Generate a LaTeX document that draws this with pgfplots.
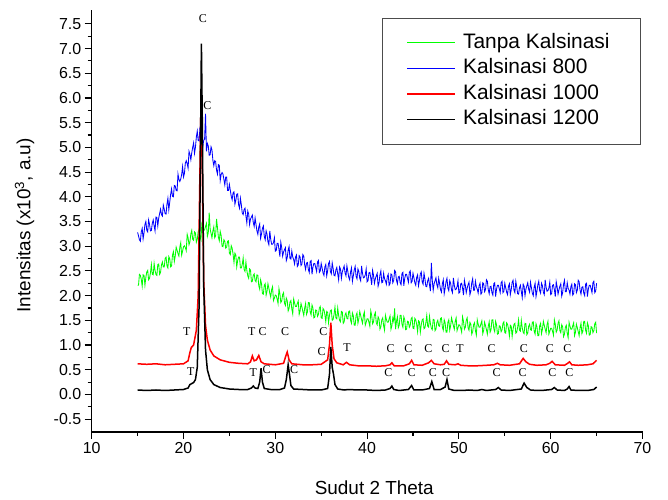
\documentclass[border=0pt]{standalone}
\usepackage{fontspec}
\setmainfont{Liberation Sans}
\newfontfamily\seriffont{Liberation Serif}
\usepackage{pgfplots}
\pgfplotsset{compat=1.18}
\begin{document}
\begin{tikzpicture}
\begin{axis}[
  scale only axis, width=550.8bp, height=422bp,
  xmin=10, xmax=70, ymin=-0.76, ymax=7.78,
  axis x line*=bottom, axis y line*=left,
  axis line style={-, line width=1.2bp},
  xtick={10,20,...,70}, minor x tick num=1,
  ytick={-0.5,0,...,7.5}, minor y tick num=1,
  tick align=outside,
  major tick length=7bp, minor tick length=4bp,
  every tick/.style={black, line width=1.1bp},
  tick label style={font=\fontsize{16}{19}\selectfont},
  yticklabel style={/pgf/number format/.cd, fixed, fixed zerofill, precision=1},
  /pgf/number format/assume math mode=true,
  xlabel={Sudut 2 Theta},
  ylabel={Intensitas (x10\textsuperscript{3}, a.u)},
  label style={font=\fontsize{19}{23}\selectfont},
  xlabel style={at={(axis description cs:0.513,-0.133)}, anchor=center},
  ylabel style={at={(axis description cs:-0.122,0.49)}, anchor=center},
  clip=false,
  legend cell align=left,
  legend image code/.code={\draw[#1] (0bp,0bp) -- (48bp,0bp);},
  legend style={at={(0.9973,0.981)}, anchor=north east, draw=black!70, line width=0.8bp,
    font=\fontsize{21}{25}\selectfont, inner xsep=24bp, inner ysep=15bp,
    nodes={inner xsep=7bp, inner ysep=0bp, text height=15bp, text depth=4bp},
    row sep=6.5bp},
]
% Tanpa Kalsinasi
\addplot[color=green, line width=0.85bp, mark=none] coordinates {
(15.0,2.21)(15.1,2.21)(15.2,2.43)(15.3,2.41)(15.4,2.33)(15.5,2.19)(15.6,2.42)(15.7,2.41)(15.8,2.21)(15.9,2.37)
(16.0,2.48)(16.1,2.51)(16.2,2.32)(16.3,2.35)(16.4,2.46)(16.5,2.63)(16.6,2.43)(16.7,2.42)(16.8,2.65)(16.9,2.51)
(17.0,2.43)(17.1,2.41)(17.2,2.63)(17.3,2.64)(17.4,2.43)(17.5,2.47)(17.6,2.62)(17.7,2.68)(17.8,2.58)(17.9,2.58)
(18.0,2.75)(18.1,2.78)(18.2,2.60)(18.3,2.56)(18.4,2.79)(18.5,2.75)(18.6,2.58)(18.7,2.60)(18.8,2.82)(18.9,2.89)
(19.0,2.69)(19.1,2.80)(19.2,2.98)(19.3,2.92)(19.4,2.85)(19.5,2.80)(19.6,2.98)(19.7,3.07)(19.8,2.82)(19.9,2.90)
(20.0,2.99)(20.1,3.01)(20.2,2.97)(20.3,2.91)(20.4,3.24)(20.5,3.17)(20.6,3.03)(20.7,3.09)(20.8,3.25)(20.9,3.32)
(21.0,3.14)(21.1,3.12)(21.2,3.29)(21.3,3.27)(21.4,3.08)(21.5,3.14)(21.6,3.29)(21.7,3.35)(21.8,3.20)(21.9,3.13)
(22.0,3.45)(22.1,3.38)(22.2,3.32)(22.3,3.33)(22.4,3.40)(22.5,3.46)(22.6,3.20)(22.7,3.27)(22.8,3.68)(22.9,3.35)
(23.0,3.26)(23.1,3.17)(23.2,3.31)(23.3,3.39)(23.4,3.17)(23.5,3.21)(23.6,3.55)(23.7,3.38)(23.8,3.18)(23.9,3.11)
(24.0,3.30)(24.1,3.22)(24.2,3.00)(24.3,2.99)(24.4,3.13)(24.5,3.10)(24.6,2.96)(24.7,2.98)(24.8,3.10)(24.9,3.11)
(25.0,2.86)(25.1,2.83)(25.2,3.01)(25.3,2.96)(25.4,2.84)(25.5,2.67)(25.6,2.86)(25.7,2.82)(25.8,2.58)(25.9,2.71)
(26.0,2.78)(26.1,2.78)(26.2,2.56)(26.3,2.56)(26.4,2.63)(26.5,2.76)(26.6,2.53)(26.7,2.49)(26.8,2.68)(26.9,2.51)
(27.0,2.40)(27.1,2.35)(27.2,2.54)(27.3,2.52)(27.4,2.28)(27.5,2.29)(27.6,2.41)(27.7,2.44)(27.8,2.31)(27.9,2.28)
(28.0,2.42)(28.1,2.41)(28.2,2.20)(28.3,2.13)(28.4,2.32)(28.5,2.24)(28.6,2.04)(28.7,2.03)(28.8,2.21)(28.9,2.24)
(29.0,2.01)(29.1,2.09)(29.2,2.24)(29.3,2.15)(29.4,2.05)(29.5,1.97)(29.6,2.12)(29.7,2.18)(29.8,1.90)(29.9,1.95)
(30.0,2.01)(30.1,2.00)(30.2,1.93)(30.3,1.84)(30.4,2.14)(30.5,2.04)(30.6,1.86)(30.7,1.89)(30.8,2.02)(30.9,2.06)
(31.0,1.85)(31.1,1.80)(31.2,1.95)(31.3,1.90)(31.4,1.69)(31.5,1.74)(31.6,1.87)(31.7,1.90)(31.8,1.73)(31.9,1.63)
(32.0,1.93)(32.1,1.85)(32.2,1.78)(32.3,1.78)(32.4,1.84)(32.5,1.89)(32.6,1.62)(32.7,1.69)(32.8,1.84)(32.9,1.77)
(33.0,1.68)(33.1,1.60)(33.2,1.75)(33.3,1.84)(33.4,1.62)(33.5,1.67)(33.6,1.86)(33.7,1.86)(33.8,1.67)(33.9,1.61)
(34.0,1.81)(34.1,1.75)(34.2,1.55)(34.3,1.56)(34.4,1.71)(34.5,1.70)(34.6,1.58)(34.7,1.62)(34.8,1.75)(34.9,1.78)
(35.0,1.55)(35.1,1.54)(35.2,1.74)(35.3,1.71)(35.4,1.62)(35.5,1.47)(35.6,1.68)(35.7,1.66)(35.8,1.45)(35.9,1.60)
(36.0,1.69)(36.1,1.71)(36.2,1.50)(36.3,1.52)(36.4,1.62)(36.5,1.77)(36.6,1.55)(36.7,1.53)(36.8,1.75)(36.9,1.60)
(37.0,1.50)(37.1,1.47)(37.2,1.68)(37.3,1.67)(37.4,1.44)(37.5,1.47)(37.6,1.61)(37.7,1.65)(37.8,1.54)(37.9,1.53)
(38.0,1.68)(38.1,1.69)(38.2,1.50)(38.3,1.44)(38.4,1.65)(38.5,1.59)(38.6,1.40)(38.7,1.40)(38.8,1.60)(38.9,1.65)
(39.0,1.44)(39.1,1.53)(39.2,1.68)(39.3,1.60)(39.4,1.51)(39.5,1.44)(39.6,1.60)(39.7,1.67)(39.8,1.40)(39.9,1.46)
(40.0,1.53)(40.1,1.53)(40.2,1.46)(40.3,1.38)(40.4,1.69)(40.5,1.60)(40.6,1.43)(40.7,1.47)(40.8,1.61)(40.9,1.66)
(41.0,1.45)(41.1,1.41)(41.2,1.57)(41.3,1.53)(41.4,1.32)(41.5,1.37)(41.6,1.51)(41.7,1.55)(41.8,1.39)(41.9,1.30)
(42.0,1.60)(42.1,1.52)(42.2,1.46)(42.3,1.46)(42.4,1.53)(42.5,1.59)(42.6,1.32)(42.7,1.39)(42.8,1.55)(42.9,1.48)
(43.0,1.74)(43.1,1.32)(43.2,1.48)(43.3,1.57)(43.4,1.35)(43.5,1.40)(43.6,1.60)(43.7,1.60)(43.8,1.42)(43.9,1.36)
(44.0,1.57)(44.1,1.51)(44.2,1.31)(44.3,1.32)(44.4,1.48)(44.5,1.47)(44.6,1.36)(44.7,1.40)(44.8,1.53)(44.9,1.56)
(45.0,1.34)(45.1,1.33)(45.2,1.54)(45.3,1.51)(45.4,1.42)(45.5,1.27)(45.6,1.49)(45.7,1.47)(45.8,1.26)(45.9,1.41)
(46.0,1.51)(46.1,1.53)(46.2,1.33)(46.3,1.35)(46.4,1.45)(46.5,1.60)(46.6,1.38)(46.7,1.36)(46.8,1.58)(46.9,1.43)
(47.0,1.34)(47.1,1.31)(47.2,1.52)(47.3,1.51)(47.4,1.29)(47.5,1.32)(47.6,1.46)(47.7,1.50)(47.8,1.39)(47.9,1.38)
(48.0,1.54)(48.1,1.55)(48.2,1.36)(48.3,1.30)(48.4,1.51)(48.5,1.45)(48.6,1.26)(48.7,1.26)(48.8,1.46)(48.9,1.51)
(49.0,1.30)(49.1,1.39)(49.2,1.55)(49.3,1.47)(49.4,1.39)(49.5,1.32)(49.6,1.48)(49.7,1.55)(49.8,1.29)(49.9,1.35)
(50.0,1.41)(50.1,1.40)(50.2,1.34)(50.3,1.26)(50.4,1.57)(50.5,1.48)(50.6,1.32)(50.7,1.36)(50.8,1.50)(50.9,1.55)
(51.0,1.35)(51.1,1.30)(51.2,1.46)(51.3,1.42)(51.4,1.22)(51.5,1.27)(51.6,1.41)(51.7,1.45)(51.8,1.29)(51.9,1.20)
(52.0,1.51)(52.1,1.42)(52.2,1.36)(52.3,1.36)(52.4,1.43)(52.5,1.49)(52.6,1.23)(52.7,1.30)(52.8,1.46)(52.9,1.39)
(53.0,1.31)(53.1,1.22)(53.2,1.38)(53.3,1.47)(53.4,1.26)(53.5,1.31)(53.6,1.51)(53.7,1.51)(53.8,1.33)(53.9,1.27)
(54.0,1.48)(54.1,1.41)(54.2,1.22)(54.3,1.23)(54.4,1.39)(54.5,1.38)(54.6,1.27)(54.7,1.31)(54.8,1.44)(54.9,1.47)
(55.0,1.25)(55.1,1.24)(55.2,1.45)(55.3,1.42)(55.4,1.33)(55.5,1.18)(55.6,1.40)(55.7,1.38)(55.8,1.17)(55.9,1.32)
(56.0,1.42)(56.1,1.44)(56.2,1.24)(56.3,1.26)(56.4,1.36)(56.5,1.51)(56.6,1.30)(56.7,1.28)(56.8,1.50)(56.9,1.35)
(57.0,1.26)(57.1,1.23)(57.2,1.44)(57.3,1.43)(57.4,1.21)(57.5,1.24)(57.6,1.38)(57.7,1.42)(57.8,1.31)(57.9,1.30)
(58.0,1.46)(58.1,1.47)(58.2,1.28)(58.3,1.22)(58.4,1.43)(58.5,1.37)(58.6,1.19)(58.7,1.19)(58.8,1.39)(58.9,1.44)
(59.0,1.23)(59.1,1.32)(59.2,1.48)(59.3,1.40)(59.4,1.32)(59.5,1.25)(59.6,1.41)(59.7,1.48)(59.8,1.22)(59.9,1.28)
(60.0,1.34)(60.1,1.34)(60.2,1.28)(60.3,1.20)(60.4,1.51)(60.5,1.42)(60.6,1.26)(60.7,1.30)(60.8,1.44)(60.9,1.49)
(61.0,1.29)(61.1,1.25)(61.2,1.41)(61.3,1.37)(61.4,1.17)(61.5,1.22)(61.6,1.36)(61.7,1.40)(61.8,1.24)(61.9,1.15)
(62.0,1.46)(62.1,1.38)(62.2,1.32)(62.3,1.32)(62.4,1.39)(62.5,1.45)(62.6,1.19)(62.7,1.26)(62.8,1.42)(62.9,1.35)
(63.0,1.27)(63.1,1.19)(63.2,1.35)(63.3,1.44)(63.4,1.23)(63.5,1.28)(63.6,1.48)(63.7,1.48)(63.8,1.30)(63.9,1.24)
(64.0,1.45)(64.1,1.39)(64.2,1.20)(64.3,1.21)(64.4,1.37)(64.5,1.36)(64.6,1.25)(64.7,1.29)(64.8,1.43)(64.9,1.46)
(65.0,1.24)
};
\addlegendentry{Tanpa Kalsinasi}
% Kalsinasi 800
\addplot[color=blue, line width=0.85bp, mark=none] coordinates {
(15.0,3.28)(15.1,3.21)(15.2,3.13)(15.3,3.10)(15.4,3.29)(15.5,3.36)(15.6,3.15)(15.7,3.27)(15.8,3.44)(15.9,3.50)
(16.0,3.32)(16.1,3.29)(16.2,3.53)(16.3,3.44)(16.4,3.31)(16.5,3.32)(16.6,3.46)(16.7,3.53)(16.8,3.41)(16.9,3.31)
(17.0,3.59)(17.1,3.58)(17.2,3.41)(17.3,3.57)(17.4,3.66)(17.5,3.75)(17.6,3.64)(17.7,3.61)(17.8,3.83)(17.9,3.75)
(18.0,3.66)(18.1,3.65)(18.2,3.85)(18.3,3.97)(18.4,3.74)(18.5,3.89)(18.6,4.05)(18.7,4.16)(18.8,4.01)(18.9,4.00)
(19.0,4.23)(19.1,4.22)(19.2,4.13)(19.3,4.12)(19.4,4.46)(19.5,4.35)(19.6,4.31)(19.7,4.36)(19.8,4.45)(19.9,4.61)
(20.0,4.40)(20.1,4.47)(20.2,4.68)(20.3,4.73)(20.4,4.67)(20.5,4.58)(20.6,4.92)(20.7,4.86)(20.8,4.75)(20.9,4.89)
(21.0,5.00)(21.1,5.09)(21.2,4.88)(21.3,5.00)(21.4,5.21)(21.5,5.33)(21.6,5.14)(21.7,5.13)(21.8,5.42)(21.9,5.18)
(22.0,5.12)(22.1,5.02)(22.2,5.14)(22.3,5.17)(22.4,5.68)(22.5,4.92)(22.6,5.08)(22.7,5.03)(22.8,4.84)(22.9,4.85)
(23.0,5.01)(23.1,4.95)(23.2,4.74)(23.3,4.63)(23.4,4.73)(23.5,4.71)(23.6,4.54)(23.7,4.46)(23.8,4.65)(23.9,4.64)
(24.0,4.33)(24.1,4.45)(24.2,4.49)(24.3,4.46)(24.4,4.35)(24.5,4.24)(24.6,4.40)(24.7,4.40)(24.8,4.13)(24.9,4.13)
(25.0,4.25)(25.1,4.13)(25.2,4.01)(25.3,3.94)(25.4,4.08)(25.5,4.10)(25.6,3.85)(25.7,3.93)(25.8,4.05)(25.9,4.06)
(26.0,3.84)(26.1,3.77)(26.2,3.97)(26.3,3.84)(26.4,3.67)(26.5,3.64)(26.6,3.74)(26.7,3.77)(26.8,3.61)(26.9,3.47)
(27.0,3.71)(27.1,3.65)(27.2,3.44)(27.3,3.55)(27.4,3.59)(27.5,3.63)(27.6,3.48)(27.7,3.40)(27.8,3.57)(27.9,3.44)
(28.0,3.31)(28.1,3.24)(28.2,3.39)(28.3,3.45)(28.4,3.16)(28.5,3.25)(28.6,3.36)(28.7,3.41)(28.8,3.20)(28.9,3.13)
(29.0,3.31)(29.1,3.24)(29.2,3.09)(29.3,3.03)(29.4,3.31)(29.5,3.14)(29.6,3.04)(29.7,3.04)(29.8,3.07)(29.9,3.17)
(30.0,2.90)(30.1,2.91)(30.2,3.06)(30.3,3.06)(30.4,2.94)(30.5,2.79)(30.6,3.08)(30.7,2.97)(30.8,2.80)(30.9,2.88)
(31.0,2.93)(31.1,2.97)(31.2,2.71)(31.3,2.77)(31.4,2.92)(31.5,2.99)(31.6,2.75)(31.7,2.74)(31.8,2.90)(31.9,2.78)
(32.0,2.73)(32.1,2.64)(32.2,2.78)(32.3,2.82)(32.4,2.59)(32.5,2.62)(32.6,2.81)(32.7,2.78)(32.8,2.61)(32.9,2.64)
(33.0,2.83)(33.1,2.80)(33.2,2.62)(33.3,2.53)(33.4,2.66)(33.5,2.67)(33.6,2.53)(33.7,2.47)(33.8,2.69)(33.9,2.71)
(34.0,2.43)(34.1,2.58)(34.2,2.65)(34.3,2.65)(34.4,2.57)(34.5,2.49)(34.6,2.68)(34.7,2.71)(34.8,2.47)(34.9,2.50)
(35.0,2.65)(35.1,2.56)(35.2,2.46)(35.3,2.41)(35.4,2.58)(35.5,2.63)(35.6,2.40)(35.7,2.50)(35.8,2.65)(35.9,2.69)
(36.0,2.49)(36.1,2.44)(36.2,2.66)(36.3,2.55)(36.4,2.41)(36.5,2.40)(36.6,2.52)(36.7,2.57)(36.8,2.44)(36.9,2.32)
(37.0,2.58)(37.1,2.54)(37.2,2.35)(37.3,2.48)(37.4,2.54)(37.5,2.60)(37.6,2.46)(37.7,2.40)(37.8,2.60)(37.9,2.49)
(38.0,2.37)(38.1,2.32)(38.2,2.48)(38.3,2.56)(38.4,2.29)(38.5,2.40)(38.6,2.52)(38.7,2.59)(38.8,2.39)(38.9,2.34)
(39.0,2.54)(39.1,2.49)(39.2,2.35)(39.3,2.30)(39.4,2.60)(39.5,2.45)(39.6,2.36)(39.7,2.37)(39.8,2.42)(39.9,2.54)
(40.0,2.28)(40.1,2.30)(40.2,2.46)(40.3,2.47)(40.4,2.36)(40.5,2.22)(40.6,2.51)(40.7,2.41)(40.8,2.25)(40.9,2.34)
(41.0,2.40)(41.1,2.45)(41.2,2.19)(41.3,2.26)(41.4,2.42)(41.5,2.50)(41.6,2.26)(41.7,2.27)(41.8,2.45)(41.9,2.34)
(42.0,2.30)(42.1,2.23)(42.2,2.38)(42.3,2.43)(42.4,2.21)(42.5,2.24)(42.6,2.44)(42.7,2.42)(42.8,2.26)(42.9,2.31)
(43.0,2.51)(43.1,2.48)(43.2,2.31)(43.3,2.24)(43.4,2.38)(43.5,2.39)(43.6,2.26)(43.7,2.22)(43.8,2.45)(43.9,2.47)
(44.0,2.20)(44.1,2.35)(44.2,2.43)(44.3,2.43)(44.4,2.35)(44.5,2.27)(44.6,2.47)(44.7,2.50)(44.8,2.26)(44.9,2.29)
(45.0,2.45)(45.1,2.36)(45.2,2.26)(45.3,2.21)(45.4,2.37)(45.5,2.42)(45.6,2.20)(45.7,2.30)(45.8,2.44)(45.9,2.48)
(46.0,2.28)(46.1,2.23)(46.2,2.45)(46.3,2.34)(46.4,2.19)(46.5,2.18)(46.6,2.30)(46.7,2.35)(46.8,2.21)(46.9,2.09)
(47.0,2.66)(47.1,2.31)(47.2,2.11)(47.3,2.24)(47.4,2.30)(47.5,2.36)(47.6,2.22)(47.7,2.16)(47.8,2.35)(47.9,2.24)
(48.0,2.12)(48.1,2.07)(48.2,2.24)(48.3,2.32)(48.4,2.04)(48.5,2.15)(48.6,2.28)(48.7,2.35)(48.8,2.15)(48.9,2.10)
(49.0,2.30)(49.1,2.25)(49.2,2.11)(49.3,2.06)(49.4,2.36)(49.5,2.21)(49.6,2.12)(49.7,2.13)(49.8,2.18)(49.9,2.30)
(50.0,2.05)(50.1,2.07)(50.2,2.24)(50.3,2.25)(50.4,2.15)(50.5,2.01)(50.6,2.31)(50.7,2.21)(50.8,2.06)(50.9,2.15)
(51.0,2.22)(51.1,2.27)(51.2,2.02)(51.3,2.09)(51.4,2.26)(51.5,2.34)(51.6,2.11)(51.7,2.11)(51.8,2.29)(51.9,2.18)
(52.0,2.13)(52.1,2.05)(52.2,2.20)(52.3,2.25)(52.4,2.03)(52.5,2.06)(52.6,2.26)(52.7,2.24)(52.8,2.08)(52.9,2.12)
(53.0,2.32)(53.1,2.29)(53.2,2.12)(53.3,2.04)(53.4,2.18)(53.5,2.19)(53.6,2.06)(53.7,2.01)(53.8,2.24)(53.9,2.26)
(54.0,1.98)(54.1,2.13)(54.2,2.21)(54.3,2.21)(54.4,2.14)(54.5,2.06)(54.6,2.26)(54.7,2.29)(54.8,2.06)(54.9,2.09)
(55.0,2.25)(55.1,2.16)(55.2,2.07)(55.3,2.02)(55.4,2.19)(55.5,2.24)(55.6,2.02)(55.7,2.12)(55.8,2.27)(55.9,2.31)
(56.0,2.11)(56.1,2.06)(56.2,2.29)(56.3,2.18)(56.4,2.04)(56.5,2.03)(56.6,2.16)(56.7,2.21)(56.8,2.08)(56.9,1.96)
(57.0,2.23)(57.1,2.19)(57.2,2.00)(57.3,2.13)(57.4,2.20)(57.5,2.26)(57.6,2.13)(57.7,2.07)(57.8,2.27)(57.9,2.16)
(58.0,2.05)(58.1,2.00)(58.2,2.17)(58.3,2.25)(58.4,1.98)(58.5,2.09)(58.6,2.22)(58.7,2.29)(58.8,2.10)(58.9,2.05)
(59.0,2.25)(59.1,2.20)(59.2,2.07)(59.3,2.02)(59.4,2.32)(59.5,2.17)(59.6,2.09)(59.7,2.10)(59.8,2.15)(59.9,2.27)
(60.0,2.02)(60.1,2.04)(60.2,2.21)(60.3,2.22)(60.4,2.12)(60.5,1.98)(60.6,2.28)(60.7,2.18)(60.8,2.03)(60.9,2.12)
(61.0,2.19)(61.1,2.24)(61.2,1.99)(61.3,2.06)(61.4,2.23)(61.5,2.31)(61.6,2.08)(61.7,2.08)(61.8,2.26)(61.9,2.15)
(62.0,2.11)(62.1,2.03)(62.2,2.18)(62.3,2.23)(62.4,2.01)(62.5,2.04)(62.6,2.24)(62.7,2.22)(62.8,2.06)(62.9,2.11)
(63.0,2.31)(63.1,2.28)(63.2,2.11)(63.3,2.03)(63.4,2.17)(63.5,2.18)(63.6,2.05)(63.7,2.00)(63.8,2.23)(63.9,2.25)
(64.0,1.98)(64.1,2.13)(64.2,2.21)(64.3,2.21)(64.4,2.14)(64.5,2.06)(64.6,2.26)(64.7,2.29)(64.8,2.06)(64.9,2.09)
(65.0,2.25)
};
\addlegendentry{Kalsinasi 800}
% Kalsinasi 1000
\addplot[color=red, line width=1.5bp, mark=none] coordinates {
(15.0,0.62)(16.0,0.61)(17.0,0.62)(18.0,0.60)(19.0,0.61)(20.0,0.62)(20.5,0.68)(20.7,0.85)(20.85,0.95)
(21.1,1.00)(21.4,1.30)(21.6,2.00)(21.75,4.00)(21.9,5.85)(22.05,4.50)(22.2,2.30)(22.4,1.40)(22.6,1.10)
(22.9,0.90)(23.3,0.78)(24.0,0.70)(25.0,0.65)(26.0,0.63)(27.0,0.62)(27.3,0.66)(27.5,0.78)(27.7,0.68)
(27.95,0.70)(28.2,0.79)(28.45,0.66)(28.8,0.62)(30.0,0.60)(30.9,0.63)(31.15,0.78)(31.3,0.86)(31.5,0.70)
(31.8,0.62)(33.0,0.60)(34.0,0.60)(35.0,0.61)(35.7,0.70)(35.9,1.00)(36.05,1.45)(36.2,1.00)(36.4,0.72)
(36.7,0.64)(37.4,0.60)(37.75,0.65)(38.1,0.60)(39.0,0.58)(40.0,0.58)(41.0,0.57)(42.0,0.58)(42.5,0.60)
(42.7,0.64)(42.95,0.58)(44.0,0.58)(44.6,0.62)(44.85,0.69)(45.1,0.60)(46.0,0.59)(46.7,0.64)(47.0,0.69)
(47.3,0.62)(48.0,0.60)(48.4,0.61)(48.65,0.68)(48.9,0.61)(49.6,0.60)(49.9,0.62)(50.2,0.59)(51.0,0.58)
(52.0,0.58)(53.0,0.59)(53.8,0.60)(54.2,0.63)(54.5,0.60)(55.5,0.59)(56.6,0.62)(57.0,0.73)(57.3,0.66)
(57.7,0.61)(58.5,0.59)(59.5,0.60)(59.9,0.63)(60.15,0.67)(60.5,0.60)(61.5,0.59)(61.85,0.63)(62.05,0.66)
(62.3,0.60)(63.0,0.59)(64.0,0.60)(64.6,0.62)(65.0,0.69)
};
\addlegendentry{Kalsinasi 1000}
% Kalsinasi 1200
\addplot[color=black, line width=1.5bp, mark=none] coordinates {
(15.0,0.09)(16.0,0.08)(17.0,0.09)(18.0,0.08)(19.0,0.09)(20.0,0.10)(20.5,0.13)(20.7,0.20)(20.9,0.22)
(21.1,0.24)(21.3,0.30)(21.5,0.55)(21.7,1.80)(21.85,5.00)(21.95,7.10)(22.05,5.50)(22.2,2.20)(22.4,0.90)
(22.6,0.50)(22.9,0.30)(23.3,0.20)(24.0,0.14)(25.0,0.11)(26.0,0.10)(27.0,0.10)(27.4,0.13)(27.6,0.17)
(27.8,0.13)(28.1,0.12)(28.3,0.25)(28.45,0.53)(28.6,0.25)(28.8,0.12)(29.5,0.10)(30.5,0.10)(31.0,0.13)
(31.2,0.30)(31.4,0.60)(31.55,0.40)(31.7,0.18)(32.0,0.11)(33.0,0.10)(34.0,0.09)(35.0,0.09)(35.7,0.12)
(35.9,0.40)(36.05,0.96)(36.2,0.55)(36.35,0.40)(36.5,0.20)(36.8,0.11)(37.5,0.09)(38.0,0.10)(39.0,0.09)
(40.0,0.09)(41.0,0.08)(42.0,0.09)(42.5,0.12)(42.7,0.17)(42.9,0.10)(43.5,0.08)(44.5,0.10)(44.85,0.18)
(45.1,0.09)(46.0,0.09)(46.8,0.12)(47.05,0.26)(47.3,0.10)(48.0,0.10)(48.5,0.15)(48.7,0.30)(48.9,0.11)
(49.5,0.08)(50.5,0.08)(51.0,0.09)(52.0,0.08)(52.5,0.10)(53.0,0.08)(54.0,0.10)(54.3,0.14)(54.6,0.09)
(55.5,0.08)(56.8,0.11)(57.1,0.23)(57.4,0.14)(57.8,0.09)(58.5,0.08)(59.0,0.08)(60.1,0.10)(60.4,0.14)
(60.7,0.09)(61.5,0.08)(61.8,0.11)(62.0,0.16)(62.2,0.09)(63.0,0.08)(64.0,0.08)(64.7,0.10)(65.0,0.15)
};
\addlegendentry{Kalsinasi 1200}
% phase labels
\begin{scope}[every node/.style={font=\seriffont\fontsize{12}{14}\selectfont, inner sep=0pt}]
\node at (axis cs:22.1,7.61) {C};
\node at (axis cs:22.6,5.85) {C};
\node at (axis cs:20.35,1.28) {T};
\node at (axis cs:27.43,1.28) {T};
\node at (axis cs:28.63,1.28) {C};
\node at (axis cs:31.06,1.28) {C};
\node at (axis cs:35.23,1.28) {C};
\node at (axis cs:35.05,0.86) {C};
\node at (axis cs:37.8,0.94) {T};
\node at (axis cs:20.78,0.46) {T};
\node at (axis cs:27.6,0.44) {T};
\node at (axis cs:29.06,0.51) {C};
\node at (axis cs:32.04,0.50) {C};
\node at (axis cs:42.57,0.93) {C};
\node at (axis cs:44.49,0.93) {C};
\node at (axis cs:46.67,0.93) {C};
\node at (axis cs:48.56,0.93) {C};
\node at (axis cs:50.12,0.93) {T};
\node at (axis cs:53.57,0.93) {C};
\node at (axis cs:57.09,0.93) {C};
\node at (axis cs:59.92,0.93) {C};
\node at (axis cs:61.81,0.93) {C};
\node at (axis cs:42.31,0.44) {C};
\node at (axis cs:44.86,0.44) {C};
\node at (axis cs:47.15,0.44) {C};
\node at (axis cs:48.6,0.44) {C};
\node at (axis cs:54.12,0.44) {C};
\node at (axis cs:56.95,0.44) {C};
\node at (axis cs:60.18,0.44) {C};
\node at (axis cs:62.03,0.44) {C};
\end{scope}
\end{axis}
\pgfresetboundingbox
\path (-91.7bp,-68bp) rectangle (576.3bp,432bp);
\end{tikzpicture}
\end{document}
